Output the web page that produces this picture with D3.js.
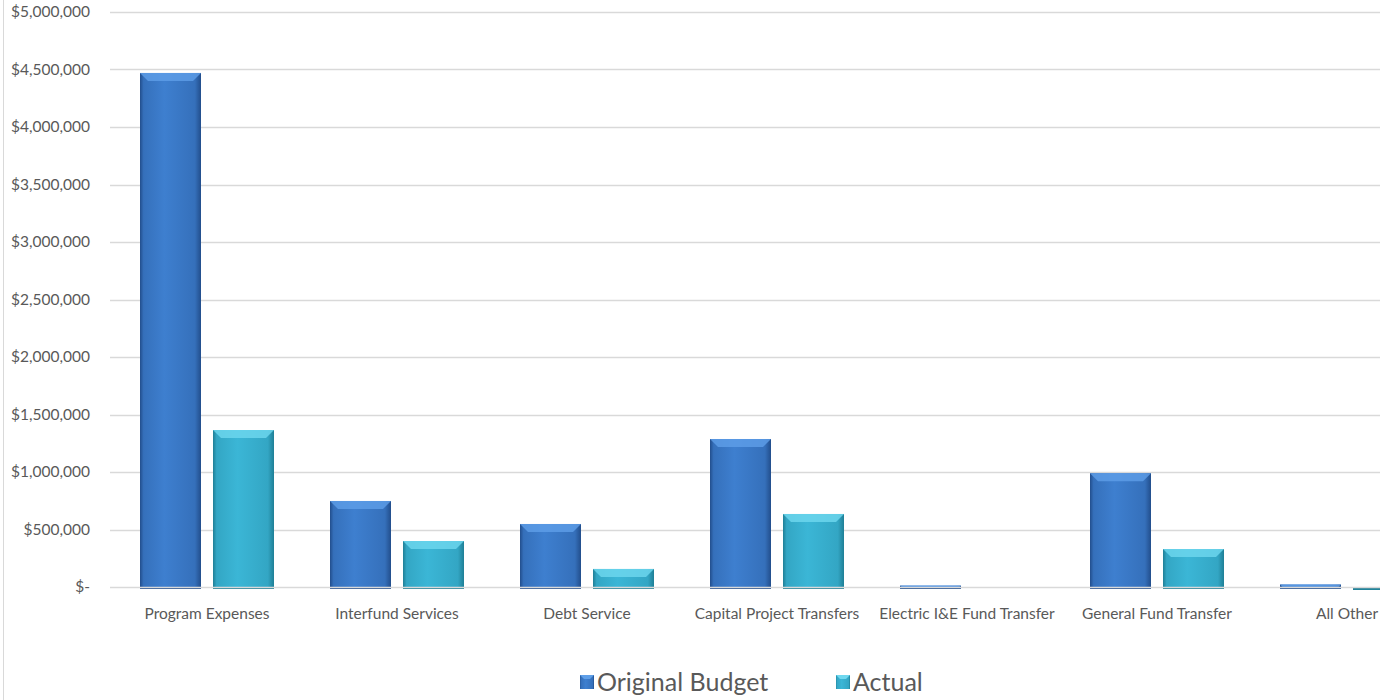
<!DOCTYPE html>
<head>
    <style>
        body { margin: 0; background: #fff; }
        svg { display: block; font-family: Lato, "Open Sans", sans-serif; }
        .tick-label { fill: #595959; font-size: 15.5px; }
        .legend-label { fill: #595959; font-size: 25px; }
    </style>
</head>
<body>
    <script src="https://d3js.org/d3.v7.min.js"></script>
    <script>
        const w = 1380, h = 700;

        const categories = ['Program Expenses', 'Interfund Services', 'Debt Service',
                            'Capital Project Transfers', 'Electric I&E Fund Transfer',
                            'General Fund Transfer', 'All Other'];
        const seriesNames = ['Original Budget', 'Actual'];
        const originalBudget = [4470000, 748000, 548000, 1287000, 12000, 990000, 22000];
        const actual = [1365000, 400000, 157000, 635000, 0, 330000, -8000];
        const yTicks = [0, 500000, 1000000, 1500000, 2000000, 2500000,
                        3000000, 3500000, 4000000, 4500000, 5000000];

        const colors = {
            'Original Budget': { edge: '#3570bb', mid: '#3e7fcf', top: '#5f9fe8', side: '#224e8c' },
            'Actual': { edge: '#33a6c4', mid: '#3bb6d6', top: '#6fd8ef', side: '#1f7f96' }
        };

        const svg = d3.select('body')
                      .append('svg')
                      .attr('width', w)
                      .attr('height', h);

        const defs = svg.append('defs');
        seriesNames.forEach((s, i) => {
            const g = defs.append('linearGradient')
                          .attr('id', 'grad' + i)
                          .attr('x1', 0).attr('x2', 1).attr('y1', 0).attr('y2', 0);
            g.append('stop').attr('offset', '0%').attr('stop-color', colors[s].side);
            g.append('stop').attr('offset', '6%').attr('stop-color', colors[s].edge);
            g.append('stop').attr('offset', '40%').attr('stop-color', colors[s].mid);
            g.append('stop').attr('offset', '90%').attr('stop-color', colors[s].edge);
            g.append('stop').attr('offset', '100%').attr('stop-color', colors[s].side);
        });

        // outer border on the left
        svg.append('line')
           .attr('x1', 3.5).attr('x2', 3.5)
           .attr('y1', 0).attr('y2', h)
           .attr('stroke', '#d9d9d9');

        const y = d3.scaleLinear()
                    .domain([0, 5000000])
                    .range([587, 12]);

        const x = d3.scaleBand()
                    .domain(categories)
                    .range([112, 1442]);

        const xs = d3.scaleBand()
                     .domain(seriesNames)
                     .range([28, 162])
                     .paddingInner(0.1644);

        const fmt = d => d === 0 ? '$-' : '$' + d3.format(',')(d);

        // gridlines (zero line drawn after bars)
        svg.selectAll('.grid')
           .data(yTicks.filter(d => d !== 0))
           .enter()
           .append('line')
           .attr('x1', 110).attr('x2', w)
           .attr('y1', d => Math.round(y(d)) + 0.5)
           .attr('y2', d => Math.round(y(d)) + 0.5)
           .attr('stroke', '#d9d9d9')
           .attr('stroke-width', 1.3);

        svg.selectAll('.ylab')
           .data(yTicks)
           .enter()
           .append('text')
           .attr('class', 'tick-label')
           .attr('x', 90)
           .attr('y', d => y(d) + 5)
           .attr('text-anchor', 'end')
           .text(fmt);

        const rows = [];
        categories.forEach((c, i) => {
            rows.push({ cat: c, s: 'Original Budget', si: 0, v: originalBudget[i] });
            rows.push({ cat: c, s: 'Actual', si: 1, v: actual[i] });
        });

        const bars = svg.selectAll('.bar')
                        .data(rows.filter(d => d.v !== 0))
                        .enter()
                        .append('g');

        bars.each(function(d) {
            const g = d3.select(this);
            const bx = x(d.cat) + xs(d.s);
            const bw = xs.bandwidth();
            let top = Math.min(y(d.v), y(0));
            let bot = Math.max(y(d.v), y(0)) + 2;
            const bh = bot - top;
            g.append('rect')
             .attr('x', bx).attr('y', top)
             .attr('width', bw).attr('height', bh)
             .attr('fill', 'url(#grad' + d.si + ')');
            const b = Math.min(8, bh / 2);
            g.append('polygon')
             .attr('points', [[bx, top], [bx + bw, top], [bx + bw - b, top + b], [bx + b, top + b]]
                   .map(p => p.join(',')).join(' '))
             .attr('fill', colors[d.s].top)
             .attr('opacity', 0.8);
            g.append('rect')
             .attr('x', bx).attr('y', bot - 2)
             .attr('width', bw).attr('height', 2)
             .attr('fill', colors[d.s].side);
        });

        // zero line over bars
        svg.append('line')
           .attr('x1', 110).attr('x2', w)
           .attr('y1', Math.round(y(0)) + 0.5)
           .attr('y2', Math.round(y(0)) + 0.5)
           .attr('stroke', '#d9d9d9')
           .attr('stroke-width', 1.3);

        svg.selectAll('.xlab')
           .data(categories)
           .enter()
           .append('text')
           .attr('class', 'tick-label')
           .attr('x', d => x(d) + x.bandwidth() / 2)
           .attr('y', 619)
           .attr('text-anchor', 'middle')
           .text(d => d);

        // legend
        const legendX = [580, 836];
        const leg = svg.selectAll('.leg')
                       .data(seriesNames)
                       .enter()
                       .append('g')
                       .attr('transform', (d, i) => `translate(${legendX[i]},0)`);
        leg.append('rect')
           .attr('x', 0).attr('y', 675)
           .attr('width', 14).attr('height', 14)
           .attr('fill', (d, i) => 'url(#grad' + i + ')');
        leg.append('polygon')
           .attr('points', '0,675 14,675 10,679 4,679')
           .attr('fill', d => colors[d].top);
        leg.append('text')
           .attr('class', 'legend-label')
           .attr('x', 17)
           .attr('y', 691)
           .text(d => d);
    </script>
</body>
